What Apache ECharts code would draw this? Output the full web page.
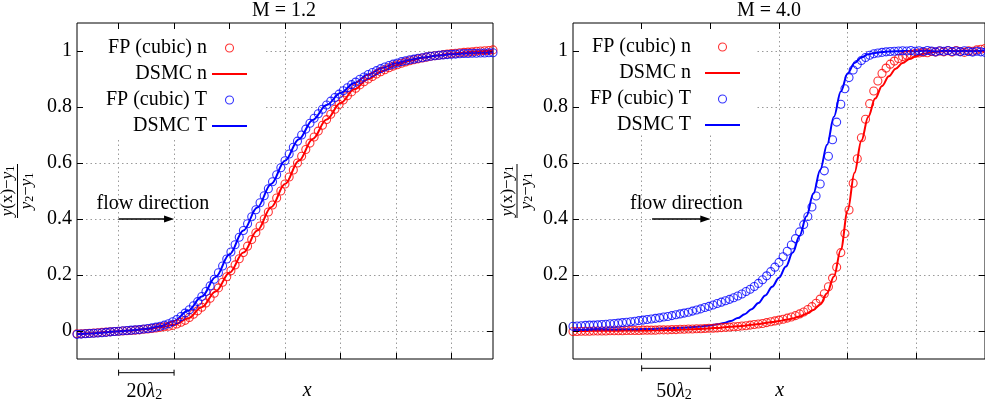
<!DOCTYPE html>
<html>
<head>
<meta charset="utf-8">
<script src="https://cdn.jsdelivr.net/npm/echarts@6/dist/echarts.min.js"></script>
<style>
html,body{margin:0;padding:0;background:#fff;}
#chart{width:985px;height:411px;}
</style>
</head>
<body>
<div id="chart"></div>
<script>
// ---------------- data ----------------
const seriesNames = ['FP (cubic) n', 'DSMC n', 'FP (cubic) T', 'DSMC T'];
const panelTitles = ['M = 1.2', 'M = 4.0'];
const yTickValues = [0, 0.2, 0.4, 0.6, 0.8, 1];
const yTickLabels = ['0', '0.2', '0.4', '0.6', '0.8', '1'];
const xTickValuesLeft = [-60, -40, -20, 0, 20, 40, 60];
const xTickValuesRight = [-100, -50, 0, 50, 100];
const scaleBarTexts = ['20{i|λ}{s|2}', '50{i|λ}{s|2}'];

// M = 1.2
const leftFPx = [-75,-73.5,-72,-70.5,-69,-67.5,-66,-64.5,-63,-61.5,-60,-58.5,-57,-55.5,-54,-52.5,-51,-49.5,-48,-46.5,-45,-43.5,-42,-40.5,-39,-37.5,-36,-34.5,-33,-31.5,-30,-28.5,-27,-25.5,-24,-22.5,-21,-19.5,-18,-16.5,-15,-13.5,-12,-10.5,-9,-7.5,-6,-4.5,-3,-1.5,0,1.5,3,4.5,6,7.5,9,10.5,12,13.5,15,16.5,18,19.5,21,22.5,24,25.5,27,28.5,30,31.5,33,34.5,36,37.5,39,40.5,42,43.5,45,46.5,48,49.5,51,52.5,54,55.5,57,58.5,60,61.5,63,64.5,66,67.5,69,70.5,72,73.5,75];
const leftFPn = [-0.010,-0.010,-0.009,-0.008,-0.007,-0.006,-0.005,-0.004,-0.003,-0.002,
  -0.001,0.000,0.001,0.002,0.003,0.004,0.006,0.007,0.009,0.011,
  0.013,0.015,0.017,0.020,0.025,0.031,0.038,0.048,0.060,0.072,
  0.085,0.100,0.117,0.135,0.154,0.174,0.194,0.215,0.236,0.258,
  0.280,0.303,0.327,0.351,0.375,0.400,0.425,0.450,0.475,0.500,
  0.525,0.550,0.575,0.600,0.624,0.648,0.671,0.693,0.714,0.735,
  0.755,0.774,0.792,0.809,0.825,0.840,0.854,0.867,0.879,0.890,
  0.900,0.909,0.918,0.926,0.933,0.940,0.946,0.951,0.956,0.961,
  0.965,0.969,0.972,0.975,0.978,0.981,0.983,0.985,0.987,0.989,
  0.991,0.992,0.994,0.995,0.996,0.997,0.999,1.000,1.001,1.002,1.004];
const leftFPT = [-0.012,-0.011,-0.010,-0.009,-0.008,-0.007,-0.006,-0.005,-0.003,-0.002,
  -0.001,0.001,0.002,0.003,0.004,0.005,0.007,0.009,0.011,0.014,
  0.017,0.021,0.026,0.033,0.041,0.052,0.064,0.076,0.090,0.105,
  0.123,0.141,0.161,0.185,0.208,0.232,0.257,0.282,0.308,0.335,
  0.359,0.383,0.408,0.433,0.458,0.483,0.508,0.533,0.558,0.583,
  0.608,0.632,0.656,0.678,0.700,0.721,0.742,0.760,0.776,0.792,
  0.807,0.821,0.834,0.846,0.858,0.869,0.880,0.889,0.899,0.907,
  0.916,0.923,0.930,0.937,0.943,0.948,0.953,0.957,0.962,0.965,
  0.969,0.971,0.974,0.976,0.979,0.981,0.983,0.985,0.986,0.987,
  0.988,0.989,0.990,0.991,0.991,0.992,0.992,0.993,0.993,0.994,0.994];
const leftDSx = [-75,-70,-65,-60,-55,-50,-45,-40,-35,-30,-25,-20,-15,-10,-5,0,5,10,15,20,25,30,35,40,45,50,55,60,65,70,75];
const leftDSn = [-0.010,-0.008,-0.004,-0.001,0.002,0.007,0.013,0.022,0.045,0.085,0.141,0.208,0.280,0.359,0.442,0.525,0.608,0.686,0.755,0.814,0.863,0.900,0.928,0.949,0.965,0.976,0.984,0.991,0.995,0.999,1.003];
const leftDST = [-0.012,-0.009,-0.005,-0.001,0.003,0.008,0.017,0.036,0.072,0.123,0.193,0.274,0.359,0.441,0.525,0.608,0.685,0.754,0.807,0.850,0.886,0.916,0.939,0.956,0.969,0.977,0.984,0.988,0.991,0.993,0.994];

// M = 4.0
const rightFPx = [-150,-147,-144,-141,-138,-135,-132,-129,-126,-123,-120,-117,-114,-111,-108,-105,-102,-99,-96,-93,-90,-87,-84,-81,-78,-75,-72,-69,-66,-63,-60,-57,-54,-51,-48,-45,-42,-39,-36,-33,-30,-27,-24,-21,-18,-15,-12,-9,-6,-3,0,3,6,9,12,15,18,21,24,27,30,33,36,39,42,45,48,51,54,57,60,63,66,69,72,75,78,81,84,87,90,93,96,99,102,105,108,111,114,117,120,123,126,129,132,135,138,141,144,147,150];
const rightFPn = [-0.002,-0.002,-0.001,-0.001,-0.001,0.000,0.000,0.000,0.000,0.001,
  0.001,0.001,0.001,0.002,0.002,0.002,0.002,0.003,0.003,0.003,
  0.003,0.004,0.004,0.004,0.005,0.005,0.006,0.006,0.007,0.007,
  0.008,0.008,0.009,0.010,0.010,0.011,0.012,0.013,0.014,0.015,
  0.016,0.018,0.019,0.021,0.023,0.025,0.027,0.030,0.033,0.036,
  0.039,0.042,0.046,0.050,0.055,0.061,0.068,0.077,0.087,0.099,
  0.114,0.133,0.158,0.189,0.228,0.280,0.348,0.432,0.528,0.615,
  0.690,0.756,0.812,0.857,0.893,0.920,0.939,0.953,0.964,0.973,
  0.980,0.985,0.988,0.991,0.993,0.995,0.994,0.998,0.996,1.000,
  0.997,1.001,0.996,1.002,0.998,0.995,1.001,0.999,1.004,1.006,1.009];
const rightFPT = [0.017,0.018,0.019,0.020,0.021,0.021,0.022,0.023,0.024,0.026,
  0.027,0.028,0.030,0.031,0.033,0.035,0.037,0.039,0.041,0.043,
  0.045,0.047,0.050,0.052,0.055,0.058,0.061,0.064,0.067,0.071,
  0.075,0.079,0.084,0.088,0.093,0.098,0.103,0.108,0.113,0.119,
  0.125,0.132,0.141,0.149,0.159,0.170,0.183,0.197,0.212,0.228,
  0.245,0.265,0.285,0.307,0.330,0.354,0.380,0.409,0.443,0.482,
  0.525,0.572,0.624,0.683,0.746,0.810,0.865,0.905,0.932,0.952,
  0.966,0.977,0.985,0.990,0.993,0.995,0.997,0.998,0.999,1.000,
  1.001,1.000,1.002,0.999,1.001,0.998,1.002,1.000,0.997,1.001,
  0.999,1.002,0.998,1.000,0.997,1.001,0.998,0.996,0.999,0.997,0.995];
const rightDSx = [-150,-145,-140,-135,-130,-125,-120,-115,-110,-105,-100,-95,-90,-85,-80,-75,-70,-65,-60,-55,-50,-45,-40,-35,-30,-25,-20,-15,-10,-5,0,5,10,15,20,25,30,35,40,45,50,55,60,65,70,75,80,85,90,95,100,105,110,115,120,125,130,135,140,145,150];
const rightDSn = [0.000,0.000,0.000,0.001,0.001,0.001,0.001,0.001,0.002,0.002,
  0.002,0.002,0.003,0.003,0.004,0.004,0.005,0.006,0.007,0.008,
  0.010,0.011,0.013,0.015,0.017,0.019,0.022,0.025,0.029,0.032,
  0.036,0.040,0.045,0.052,0.062,0.075,0.095,0.135,0.195,0.290,
  0.430,0.565,0.680,0.765,0.830,0.875,0.910,0.937,0.957,0.971,
  0.982,0.990,0.995,0.997,0.999,1.000,1.000,0.999,1.001,1.000,1.000];
const rightDST = [0.004,0.004,0.004,0.005,0.005,0.005,0.005,0.006,0.006,0.006,
  0.007,0.007,0.008,0.009,0.010,0.011,0.012,0.013,0.015,0.017,
  0.020,0.024,0.029,0.036,0.046,0.060,0.078,0.100,0.127,0.158,
  0.190,0.230,0.280,0.340,0.410,0.490,0.575,0.665,0.765,0.855,
  0.920,0.957,0.977,0.988,0.993,0.996,0.998,0.999,1.000,1.000,
  0.999,1.001,1.000,0.998,1.001,1.000,0.999,1.001,0.999,1.000,1.001];

// ---------------- styling / layout (not data) ----------------
const RED = '#ff0000', BLUE = '#0000ff';
const FONT = "'Liberation Serif', 'Times New Roman', serif";
const FS = 20;
const grids = [
  {left: 77, top: 23, width: 416, height: 336},
  {left: 573, top: 23, width: 418, height: 336}
];
const xRanges = [[-75, 75], [-150, 150]];
const xTicks = [xTickValuesLeft, xTickValuesRight];
const GRIDLINE = {color: '#9a9a9a', width: 1, type: [1.5, 3]};

const chart = echarts.init(document.getElementById('chart'), null, {renderer: 'canvas'});

const xAxis = [], yAxis = [];
grids.forEach((g, gi) => {
  const base = {type: 'value', gridIndex: gi, axisLine: {show: false, onZero: false}, axisLabel: {show: false},
    splitLine: {show: false}, axisPointer: {show: false}};
  const tick = vals => ({show: true, inside: true, length: 6, customValues: vals, lineStyle: {color: '#000', width: 1}});
  // x bottom: vertical grid lines + bottom ticks
  xAxis.push(Object.assign({}, base, {position: 'bottom', min: xRanges[gi][0], max: xRanges[gi][1], z: 0,
    axisTick: tick(xTicks[gi]), splitLine: {show: true, lineStyle: GRIDLINE}}));
  // x top: ticks only
  xAxis.push(Object.assign({}, base, {position: 'top', min: xRanges[gi][0], max: xRanges[gi][1], z: 6,
    axisTick: tick(xTicks[gi])}));
  // y left: labels + ticks
  yAxis.push(Object.assign({}, base, {position: 'left', min: -0.1, max: 1.1, z: 6,
    axisTick: tick(yTickValues),
    axisLabel: {show: true, customValues: yTickValues, margin: 5, color: '#000', fontFamily: FONT, fontSize: FS,
      formatter: v => { const i = yTickValues.findIndex(t => Math.abs(t - v) < 1e-9); return i >= 0 ? yTickLabels[i] : ''; }}}));
  // y right: horizontal grid lines + right ticks
  yAxis.push(Object.assign({}, base, {position: 'right', min: -0.1, max: 1.1, z: 0,
    axisTick: tick(yTickValues), splitLine: {show: true, lineStyle: GRIDLINE}}));
});

function zip(xs, ys) { return xs.map((x, i) => [x, ys[i]]); }
function scatterS(name, xs, ys, color, gi) {
  return {name, type: 'scatter', xAxisIndex: 2 * gi, yAxisIndex: 2 * gi, data: zip(xs, ys),
    symbol: 'circle', symbolSize: 8,
    itemStyle: {color: 'rgba(0,0,0,0)', borderColor: color, borderWidth: 1.1},
    emphasis: {disabled: true}, z: 2, clip: true};
}
function lineS(name, xs, ys, color, gi) {
  return {name, type: 'line', xAxisIndex: 2 * gi, yAxisIndex: 2 * gi, data: zip(xs, ys),
    symbol: 'none', showSymbol: false, smooth: 0.35, smoothMonotone: 'x',
    lineStyle: {color, width: 2}, itemStyle: {color},
    emphasis: {disabled: true}, z: 2, clip: true};
}

const series = [
  scatterS(seriesNames[0], leftFPx, leftFPn, RED, 0),
  lineS(seriesNames[1], leftDSx, leftDSn, RED, 0),
  scatterS(seriesNames[2], leftFPx, leftFPT, BLUE, 0),
  lineS(seriesNames[3], leftDSx, leftDST, BLUE, 0),
  scatterS(seriesNames[0], rightFPx, rightFPn, RED, 1),
  lineS(seriesNames[1], rightDSx, rightDSn, RED, 1),
  scatterS(seriesNames[2], rightFPx, rightFPT, BLUE, 1),
  lineS(seriesNames[3], rightDSx, rightDST, BLUE, 1)
];

const LINE_ICON = 'path://M0,0h35v2h-35z';
function legendData() {
  return [
    {name: seriesNames[0], icon: 'circle', itemStyle: {color: 'rgba(0,0,0,0)', borderColor: RED, borderWidth: 1.1}},
    {name: seriesNames[1], icon: LINE_ICON, itemStyle: {color: RED, borderWidth: 0}},
    {name: seriesNames[2], icon: 'circle', itemStyle: {color: 'rgba(0,0,0,0)', borderColor: BLUE, borderWidth: 1.1}},
    {name: seriesNames[3], icon: LINE_ICON, itemStyle: {color: BLUE, borderWidth: 0}}
  ];
}
const legendCommon = {orient: 'vertical', align: 'right', itemWidth: 35, itemHeight: 8, itemGap: 6,
  padding: 0, selectedMode: false, z: 8,
  textStyle: {fontFamily: FONT, fontSize: FS, lineHeight: 20, color: '#000'}};

chart.setOption({
  animation: false,
  backgroundColor: '#fff',
  grid: grids.map(g => Object.assign({show: true, borderColor: '#000', borderWidth: 1,
    backgroundColor: 'rgba(0,0,0,0)', containLabel: false}, g)),
  xAxis, yAxis,
  legend: [
    Object.assign({}, legendCommon, {data: legendData(), right: 738, top: 38}),
    Object.assign({}, legendCommon, {data: legendData(), right: 245, top: 37,
      textStyle: Object.assign({}, legendCommon.textStyle, {padding: [0, 9, 0, 0]})})
  ],
  series
});

// ---------------- annotations ----------------
const keyBoxCorner = [[-7, 0.69], [-17.5, 0.70]];
const arrows = [[-60, -40, 0.4], [-92.4, -50, 0.4]];
const scaleBars = [[-60, -40, 13.7], [-100, -50, 9.3]];
const xLabelAt = [8, 0.5];
const titleAt = [284, 769];
const fracAt = [17.5, 517];

function buildGraphics() {
  const G = [];
  const xp = (ai, v) => chart.convertToPixel({xAxisIndex: ai}, v);
  const yp = (ai, v) => chart.convertToPixel({yAxisIndex: ai}, v);
  const sub = (fs, pad) => ({fontFamily: FONT, fontSize: fs, lineHeight: fs, fill: '#000', verticalAlign: 'bottom', padding: [pad, 0, 0, 0]});
  grids.forEach((g, gi) => {
    const xa = 2 * gi, ya = 2 * gi;
    const bottom = g.top + g.height;
    const bx = xp(xa, keyBoxCorner[gi][0]), by = yp(ya, keyBoxCorner[gi][1]);
    G.push({type: 'rect', z: 1, silent: true,
      shape: {x: g.left + 1, y: g.top + 1, width: bx - g.left - 1, height: by - g.top - 1},
      style: {fill: '#fff'}});
    G.push({type: 'text', z: 10, x: titleAt[gi], y: 11,
      style: {text: panelTitles[gi], fontFamily: FONT, fontSize: FS, fill: '#000', align: 'center', verticalAlign: 'middle'}});
    const a = arrows[gi];
    const ax1 = xp(xa, a[0]), ax2 = xp(xa, a[1]), ay = yp(ya, a[2]);
    G.push({type: 'line', z: 10, shape: {x1: ax1, y1: ay, x2: ax2 - 8, y2: ay}, style: {stroke: '#000', lineWidth: 1.5}});
    G.push({type: 'polygon', z: 10, shape: {points: [[ax2, ay], [ax2 - 10, ay - 3.5], [ax2 - 10, ay + 3.5]]}, style: {fill: '#000'}});
    G.push({type: 'text', z: 10, x: ax1 - 22, y: ay - 15,
      style: {text: 'flow direction', fontFamily: FONT, fontSize: FS, fill: '#000', align: 'left', verticalAlign: 'middle'}});
    const s = scaleBars[gi];
    const sx1 = xp(xa, s[0]), sx2 = xp(xa, s[1]), sy = bottom + s[2];
    G.push({type: 'line', z: 10, shape: {x1: sx1, y1: sy, x2: sx2, y2: sy}, style: {stroke: '#000', lineWidth: 1}});
    G.push({type: 'line', z: 10, shape: {x1: sx1, y1: sy - 3, x2: sx1, y2: sy + 3}, style: {stroke: '#000', lineWidth: 1}});
    G.push({type: 'line', z: 10, shape: {x1: sx2, y1: sy - 3, x2: sx2, y2: sy + 3}, style: {stroke: '#000', lineWidth: 1}});
    G.push({type: 'text', z: 10, x: (sx1 + sx2) / 2 - 2, y: bottom + 33,
      style: {text: scaleBarTexts[gi], fontFamily: FONT, fontSize: FS, fill: '#000', align: 'center', verticalAlign: 'middle',
        rich: {i: {fontFamily: FONT, fontSize: FS, lineHeight: 20, fontStyle: 'italic', fill: '#000'}, s: sub(14, 9)}}});
    G.push({type: 'text', z: 10, x: xp(xa, xLabelAt[gi]), y: bottom + 32,
      style: {text: 'x', fontFamily: FONT, fontSize: FS, fontStyle: 'italic', fill: '#000', align: 'center', verticalAlign: 'middle'}});
    const fs = 17;
    const fr = {i: {fontFamily: FONT, fontSize: fs, lineHeight: fs, fontStyle: 'italic', fill: '#000'}, s: sub(12, 7)};
    G.push({type: 'group', z: 10, x: fracAt[gi], y: 191, rotation: Math.PI / 2, children: [
      {type: 'text', x: 0, y: -1, style: {text: '{i|y}(x)−{i|y}{s|1}', fontFamily: FONT, fontSize: fs, fill: '#000',
        align: 'center', verticalAlign: 'bottom', rich: fr}},
      {type: 'line', shape: {x1: -27, y1: 0, x2: 27, y2: 0}, style: {stroke: '#000', lineWidth: 1}},
      {type: 'text', x: 0, y: 1, style: {text: '{i|y}{s|2}−{i|y}{s|1}', fontFamily: FONT, fontSize: fs, fill: '#000',
        align: 'center', verticalAlign: 'top', rich: fr}}
    ]});
  });
  chart.setOption({graphic: G});
}
buildGraphics();
</script>
</body>
</html>
